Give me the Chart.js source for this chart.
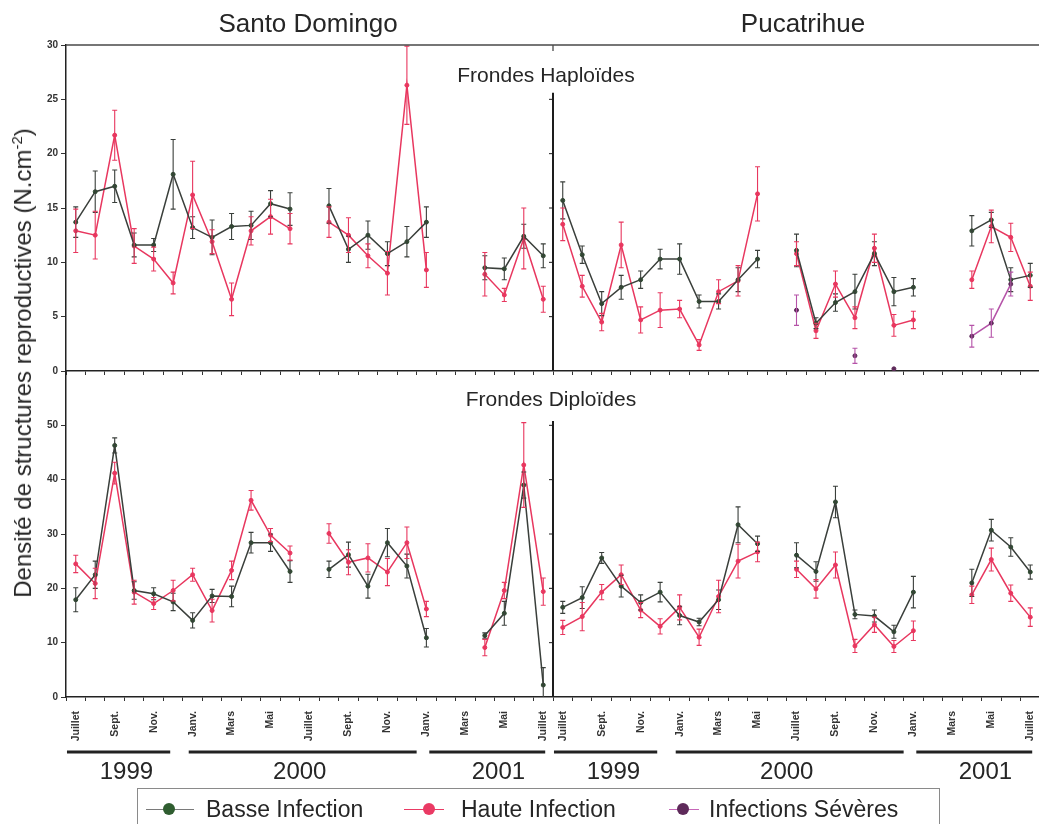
<!DOCTYPE html>
<html lang="fr">
<head>
<meta charset="utf-8">
<script src="https://cdn.jsdelivr.net/npm/chart.js@4.4.1/dist/chart.umd.min.js"></script>
<style>
  html, body { margin: 0; padding: 0; background: #fff; overflow: hidden; }
  #wrap { position: relative; width: 1039px; height: 824px; overflow: hidden;
          font-family: "Liberation Sans", Arial, sans-serif; color: #262626; }
  canvas { position: absolute; left: 0; }
  .t { position: absolute; white-space: nowrap; transform: translate(-50%, -50%); line-height: 1; }
  #ytitle { position: absolute; left: 22px; top: 363px; white-space: nowrap; font-size: 24px;
            transform: translate(-50%, -50%) rotate(-90deg); line-height: 1; }
  #ytitle sup { font-size: 15px; vertical-align: 9px; }
  #legend { position: absolute; left: 137px; top: 788px; width: 803px; height: 60px;
            border: 1px solid #8a8a8a; box-sizing: border-box; }
  .lg-line { position: absolute; top: 20px; height: 1px; }
  .lg-dot { position: absolute; top: 14px; width: 12px; height: 12px; border-radius: 50%; }
  .lg-txt { position: absolute; top: 8px; font-size: 23px; line-height: 24px; }
</style>
</head>
<body>
<div id="wrap">
  <canvas id="haplo" width="1045" height="390" style="top:0"></canvas>
  <canvas id="diplo" width="1045" height="464" style="top:360px"></canvas>

  <div class="t" style="left:308px;top:23px;font-size:26px;">Santo Domingo</div>
  <div class="t" style="left:803px;top:23px;font-size:26px;">Pucatrihue</div>
  <div class="t" style="left:546px;top:74px;font-size:21px;">Frondes Haploïdes</div>
  <div class="t" style="left:551px;top:398px;font-size:21px;">Frondes Diploïdes</div>
  <div id="ytitle">Densité de structures reproductives (N.cm<sup>-2</sup>)</div>

  <div id="legend">
    <div class="lg-line" style="left:8px;width:48px;background:#7a7a7a;"></div>
    <div class="lg-dot" style="left:25px;background:#2f5d30;"></div>
    <div class="lg-txt" style="left:68px;">Basse Infection</div>
    <div class="lg-line" style="left:266px;width:40px;background:#ea3a64;"></div>
    <div class="lg-dot" style="left:285px;background:#ea3a64;"></div>
    <div class="lg-txt" style="left:323px;">Haute Infection</div>
    <div class="lg-line" style="left:531px;width:30px;background:#c667b8;"></div>
    <div class="lg-dot" style="left:539px;background:#5e2a5a;"></div>
    <div class="lg-txt" style="left:571px;">Infections Sévères</div>
  </div>
</div>

<script>
// Months from July 1999 to July 2001; every other month is labelled.
const monthTicks = ['Juillet', '', 'Sept.', '', 'Nov.', '', 'Janv.', '', 'Mars', '', 'Mai', '',
                    'Juillet', '', 'Sept.', '', 'Nov.', '', 'Janv.', '', 'Mars', '', 'Mai', '', 'Juillet'];
const years = ['1999', '2000', '2001'];
const sites = ['Santo Domingo', 'Pucatrihue'];

// ---- Frondes haploïdes (N.cm-2), mean and error ----
const sdHaploBasse    = [13.7, 16.5, 17.0, 11.6, 11.6, 18.1, 13.2, 12.3, 13.3, 13.4, 15.4, 14.9, null, 15.2, 11.2, 12.5, 10.8, 11.9, 13.7, null, null, 9.5, 9.4, 12.4, 10.6];
const sdHaploBasseErr = [1.4, 1.9, 1.5, 1.1, 0.6, 3.2, 1.0, 1.6, 1.2, 1.3, 1.2, 1.5, null, 1.6, 1.2, 1.3, 1.1, 1.4, 1.4, null, null, 1.1, 1.0, 1.1, 1.1];
const sdHaploHaute    = [12.9, 12.5, 21.7, 11.5, 10.3, 8.1, 16.2, 11.9, 6.6, 12.9, 14.2, 13.1, null, 13.7, 12.5, 10.6, 9.0, 26.3, 9.3, null, null, 8.9, 7.0, 12.2, 6.6];
const sdHaploHauteErr = [2.0, 2.2, 2.3, 1.6, 1.1, 1.0, 3.1, 1.1, 1.5, 1.3, 1.6, 1.4, null, 1.4, 1.6, 1.1, 2.0, 3.6, 1.6, null, null, 2.0, 0.6, 2.8, 1.2];

const puHaploBasse    = [15.7, 10.7, 6.2, 7.7, 8.4, 10.3, 10.3, 6.4, 6.4, 8.4, 10.3, null, 11.1, 4.4, 6.3, 7.3, 10.8, 7.3, 7.7, null, null, 12.9, 13.9, 8.4, 8.8];
const puHaploBasseErr = [1.7, 0.8, 1.1, 1.1, 0.8, 0.9, 1.4, 0.6, 0.7, 1.1, 0.8, null, 1.5, 0.5, 0.8, 1.6, 1.1, 1.3, 0.8, null, null, 1.4, 0.7, 1.1, 1.1];
const puHaploHaute    = [13.5, 7.8, 4.5, 11.6, 4.7, 5.6, 5.7, 2.4, 7.3, 8.3, 16.3, null, 10.8, 3.7, 8.0, 4.9, 11.3, 4.2, 4.7, null, null, 8.4, 13.3, 12.3, 7.8];
const puHaploHauteErr = [1.5, 1.0, 0.8, 2.1, 1.2, 1.6, 0.8, 0.5, 1.1, 1.4, 2.5, null, 1.1, 0.7, 1.2, 1.0, 1.3, 1.0, 0.8, null, null, 0.8, 1.5, 1.3, 1.3];
const puHaploSevere   = [null, null, null, null, null, null, null, null, null, null, null, null, 5.6, null, null, 1.4, null, 0.2, null, null, null, 3.2, 4.4, 8.0, null];
const puHaploSevereErr= [null, null, null, null, null, null, null, null, null, null, null, null, 1.4, null, null, 0.7, null, null, null, null, null, 1.0, 1.3, 1.1, null];

// ---- Frondes diploïdes (N.cm-2), mean and error ----
const sdDiploBasse    = [17.9, 22.5, 46.3, 19.6, 19.0, 17.5, 14.1, 18.6, 18.5, 28.4, 28.4, 23.1, null, 23.5, 26.2, 20.4, 28.4, 24.1, 10.9, null, null, 11.3, 15.4, 39.0, 2.2];
const sdDiploBasseErr = [2.2, 2.5, 1.4, 1.6, 1.1, 1.6, 1.4, 1.2, 1.9, 1.9, 1.6, 2.0, null, 1.5, 2.3, 2.2, 2.6, 2.2, 1.7, null, null, 0.5, 2.2, 2.4, 3.2];
const sdDiploHaute    = [24.5, 20.9, 41.2, 19.3, 17.2, 19.6, 22.5, 15.9, 23.3, 36.2, 29.8, 26.5, null, 30.1, 24.8, 25.6, 23.0, 28.4, 16.2, null, null, 9.1, 19.6, 42.7, 19.4];
const sdDiploHauteErr = [1.6, 2.8, 2.0, 2.2, 1.1, 1.9, 1.2, 2.1, 1.7, 1.8, 1.2, 1.3, null, 1.8, 2.3, 2.6, 2.5, 2.9, 1.4, null, null, 1.5, 1.5, 7.8, 2.5];

const puDiploBasse    = [16.5, 18.3, 25.6, 20.4, 17.4, 19.3, 15.0, 13.8, 17.9, 31.7, 28.2, null, 26.1, 23.1, 35.9, 15.2, 14.9, 12.0, 19.3, null, null, 21.0, 30.7, 27.6, 23.0];
const puDiploBasseErr = [1.1, 2.0, 1.0, 2.0, 1.4, 1.8, 1.7, 0.7, 1.8, 3.3, 1.4, null, 2.3, 1.8, 2.9, 0.8, 1.1, 1.2, 2.9, null, null, 2.5, 2.0, 1.7, 1.3];
const puDiploHaute    = [12.8, 14.8, 19.3, 22.5, 16.0, 13.0, 16.5, 11.0, 18.5, 25.0, 26.7, null, 23.5, 19.9, 24.3, 9.4, 13.3, 9.3, 12.2, null, null, 18.8, 25.3, 19.1, 14.7];
const puDiploHauteErr = [1.3, 2.6, 1.4, 1.8, 1.4, 1.4, 2.3, 1.5, 3.0, 3.1, 1.8, null, 1.5, 1.7, 2.4, 1.2, 1.4, 1.1, 1.8, null, null, 1.6, 2.1, 1.5, 1.7];

// ---- layout helpers (not data) ----
// Year bars under the month axis, in month-index units within one site.
const yearLayout = [
  { from: -0.45, to: 4.85, mid: 2.6 },
  { from: 5.8,  to: 17.5, mid: 11.5 },
  { from: 18.15, to: 24.1, mid: 21.7 }
];
const N = monthTicks.length;           // months per site
const EMPTY = new Array(N).fill(null);
const labels = monthTicks.concat(monthTicks);
const onSite = (arr, s) => s === 0 ? arr.concat(EMPTY) : EMPTY.concat(arr);

const COL = {
  basseLine: '#3a3f3b', basseDot: '#2f4a31',
  haute: '#e8375f',
  severeLine: '#b553a8', severeDot: '#5e2a5a'
};
const FONT = "'Liberation Sans', Arial, sans-serif";

function series(values, errs, site, kind) {
  const style = {
    basse:  { borderColor: COL.basseLine, pointBackgroundColor: COL.basseDot, pointBorderColor: COL.basseDot, errorColor: '#3a3f3b' },
    haute:  { borderColor: COL.haute, pointBackgroundColor: COL.haute, pointBorderColor: COL.haute, errorColor: COL.haute },
    severe: { borderColor: COL.severeLine, pointBackgroundColor: COL.severeDot, pointBorderColor: COL.severeDot, errorColor: COL.severeLine }
  }[kind];
  return Object.assign({
    label: kind + ' ' + sites[site],
    data: onSite(values, site),
    errors: onSite(errs, site),
    borderWidth: 1.5,
    pointRadius: 2,
    pointBorderWidth: 1,
    pointHoverRadius: 2,
    spanGaps: false,
    tension: 0
  }, style);
}

const errorBars = {
  id: 'errorBars',
  afterDatasetsDraw(chart) {
    const { ctx, chartArea: a, scales: { x, y } } = chart;
    ctx.save();
    ctx.beginPath();
    ctx.rect(a.left, a.top - 1, a.right - a.left, a.bottom - a.top + 1);
    ctx.clip();
    ctx.lineWidth = 1.1;
    chart.data.datasets.forEach(ds => {
      if (!ds.errors) return;
      ctx.strokeStyle = ds.errorColor;
      ds.data.forEach((v, i) => {
        const e = ds.errors[i];
        if (v == null || e == null) return;
        const px = x.getPixelForValue(i);
        const y1 = y.getPixelForValue(v - e), y2 = y.getPixelForValue(v + e);
        ctx.beginPath();
        ctx.moveTo(px, y1); ctx.lineTo(px, y2);
        ctx.moveTo(px - 2.5, y1); ctx.lineTo(px + 2.5, y1);
        ctx.moveTo(px - 2.5, y2); ctx.lineTo(px + 2.5, y2);
        ctx.stroke();
      });
    });
    ctx.restore();
  }
};

// Frame pieces: top border, vertical separator between the two sites.
const panelFrame = {
  id: 'panelFrame',
  afterDraw(chart, args, opts) {
    const { ctx, chartArea: a, scales: { x, y } } = chart;
    const xd = (x.getPixelForValue(N - 1) + x.getPixelForValue(N)) / 2;
    ctx.save();
    ctx.strokeStyle = '#1d1d1d';
    if (opts.topLine) {
      ctx.lineWidth = 1.3;
      ctx.strokeStyle = '#4a4a4a';
      ctx.beginPath();
      ctx.moveTo(a.left, a.top); ctx.lineTo(a.right, a.top);
      ctx.moveTo(xd, a.top); ctx.lineTo(xd, a.top + 6);
      ctx.stroke();
      ctx.strokeStyle = '#1d1d1d';
    }
    const yt = y.getPixelForValue(opts.dividerFrom);
    ctx.lineWidth = 2;
    ctx.beginPath();
    ctx.moveTo(xd, yt); ctx.lineTo(xd, a.bottom);
    ctx.stroke();
    ctx.lineWidth = 1;
    ctx.beginPath();
    y.ticks.forEach(t => {
      const py = y.getPixelForValue(t.value);
      if (py > yt + 2 && py < a.bottom - 2) { ctx.moveTo(xd - 4, py); ctx.lineTo(xd, py); }
    });
    ctx.stroke();
    ctx.restore();
  }
};

// Year bars and year labels under the month names.
const yearBars = {
  id: 'yearBars',
  afterDraw(chart, args, opts) {
    const { ctx, scales: { x } } = chart;
    ctx.save();
    ctx.strokeStyle = '#222';
    ctx.fillStyle = '#262626';
    ctx.lineWidth = 3;
    ctx.font = '24px ' + FONT;
    ctx.textAlign = 'center';
    ctx.textBaseline = 'middle';
    [0, N].forEach(off => {
      yearLayout.forEach((b, k) => {
        const x1 = x.getPixelForValue(off + b.from), x2 = x.getPixelForValue(off + b.to);
        ctx.beginPath();
        ctx.moveTo(x1, opts.barY); ctx.lineTo(x2, opts.barY);
        ctx.stroke();
        ctx.fillText(years[k], x.getPixelForValue(off + b.mid), opts.textY);
      });
    });
    ctx.restore();
  }
};

function yAxis(max, step, hideTop) {
  return {
    min: 0, max: max,
    ticks: {
      stepSize: step, color: '#333', padding: 3,
      font: { family: FONT, size: 10, weight: 'bold' },
      callback: v => (hideTop && v === max) ? '' : v
    },
    grid: { drawOnChartArea: false, tickLength: 5, color: '#333' },
    border: { color: '#222', width: 1.5 },
    afterFit: s => { s.width = 66; }
  };
}

// Month axis with a fixed height and no extra side padding, so both rows line up.
function xAxis(height, showLabels) {
  return {
    offset: true,
    ticks: showLabels ? {
      autoSkip: false, maxRotation: 90, minRotation: 90, padding: 10, color: '#333',
      font: { family: FONT, size: 10.5, weight: 'bold' }
    } : { display: false },
    grid: { offset: true, drawOnChartArea: false, tickLength: 4, color: '#333' },
    border: { color: '#222', width: 1.5 },
    afterFit: s => { s.height = height; s.paddingLeft = 0; s.paddingRight = 0; }
  };
}

const baseOpts = {
  responsive: false,
  animation: false,
  events: [],
  plugins: { legend: { display: false }, tooltip: { enabled: false } }
};

new Chart(document.getElementById('haplo'), {
  type: 'line',
  data: {
    labels: labels,
    datasets: [
      series(sdHaploBasse, sdHaploBasseErr, 0, 'basse'),
      series(sdHaploHaute, sdHaploHauteErr, 0, 'haute'),
      series(puHaploBasse, puHaploBasseErr, 1, 'basse'),
      series(puHaploHaute, puHaploHauteErr, 1, 'haute'),
      series(puHaploSevere, puHaploSevereErr, 1, 'severe')
    ]
  },
  options: Object.assign({}, baseOpts, {
    layout: { padding: { left: 0, right: 5, top: 45, bottom: 13 } },
    plugins: Object.assign({}, baseOpts.plugins, { panelFrame: { topLine: true, dividerFrom: 25.6 } }),
    scales: { x: xAxis(6, false), y: yAxis(30, 5, false) }
  }),
  plugins: [errorBars, panelFrame]
});

new Chart(document.getElementById('diplo'), {
  type: 'line',
  data: {
    labels: labels,
    datasets: [
      series(sdDiploBasse, sdDiploBasseErr, 0, 'basse'),
      series(sdDiploHaute, sdDiploHauteErr, 0, 'haute'),
      series(puDiploBasse, puDiploBasseErr, 1, 'basse'),
      series(puDiploHaute, puDiploHauteErr, 1, 'haute')
    ]
  },
  options: Object.assign({}, baseOpts, {
    layout: { padding: { left: 0, right: 5, top: 11, bottom: 82 } },
    plugins: Object.assign({}, baseOpts.plugins, {
      panelFrame: { topLine: false, dividerFrom: 50.8 },
      yearBars: { barY: 392, textY: 412 }
    }),
    scales: { x: xAxis(45, true), y: yAxis(60, 10, true) }
  }),
  plugins: [errorBars, panelFrame, yearBars]
});
</script>
</body>
</html>
